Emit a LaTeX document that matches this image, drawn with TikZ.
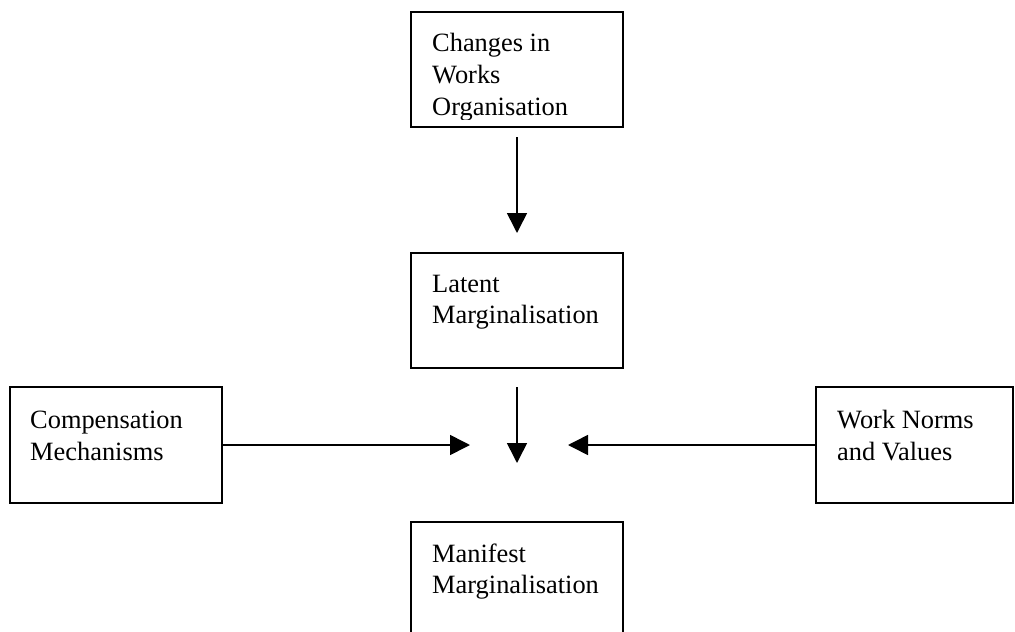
\documentclass[tikz,border=0pt]{standalone}
\usepackage{fontspec}
\setmainfont{Liberation Serif}
\usetikzlibrary{arrows.meta}
\begin{document}
\begin{tikzpicture}[x=1pt,y=-1pt,
  box/.style={draw, line width=1.8pt, inner sep=0pt, outer sep=0pt, anchor=north west},
  lbl/.style={anchor=base west, inner sep=0pt, font=\fontsize{26.4}{31.5}\selectfont},
  arr/.style={line width=1.6pt, -{Triangle[length=20pt,width=20pt]}}]
\useasboundingbox (0,0) rectangle (1015,632);
\clip (0,0) rectangle (1015,632);
% boxes
\node[box, minimum width=212pt, minimum height=115pt] (top) at (411,12) {};
\node[box, minimum width=212pt, minimum height=115pt] (latent) at (411,253) {};
\node[box, minimum width=212pt, minimum height=116pt] (comp) at (10,387) {};
\node[box, minimum width=197pt, minimum height=116pt] (work) at (816,387) {};
\node[box, minimum width=212pt, minimum height=120pt] (manifest) at (411,522) {};
% texts
\begin{scope}
\clip (412,13) rectangle (622,119);
\node[lbl] (t1) at (432,51) {Changes in};
\node[lbl] (t2) at (432,83) {Works};
\node[lbl] (t3) at (432,115) {Organisation};
\end{scope}
\node[lbl] (l1) at (432,292) {Latent};
\node[lbl] (l2) at (432,323) {Marginalisation};
\node[lbl] (c1) at (30,428) {Compensation};
\node[lbl] (c2) at (30,460) {Mechanisms};
\node[lbl] (w1) at (837,428) {Work Norms};
\node[lbl] (w2) at (837,460) {and Values};
\node[lbl] (m1) at (432,562) {Manifest};
\node[lbl] (m2) at (432,593) {Marginalisation};
% connectors
\coordinate (a1s) at (517,137);
\coordinate (a1e) at (517,233);
\coordinate (a2s) at (517,387);
\coordinate (a2e) at (517,463);
\coordinate (a3e) at (470,445);
\coordinate (a4e) at (568,445);
\draw[arr] (a1s) -- (a1e);
\draw[arr] (a2s) -- (a2e);
\draw[arr] (comp.east) -- (a3e);
\draw[arr] (work.west) -- (a4e);
\end{tikzpicture}
\end{document}
